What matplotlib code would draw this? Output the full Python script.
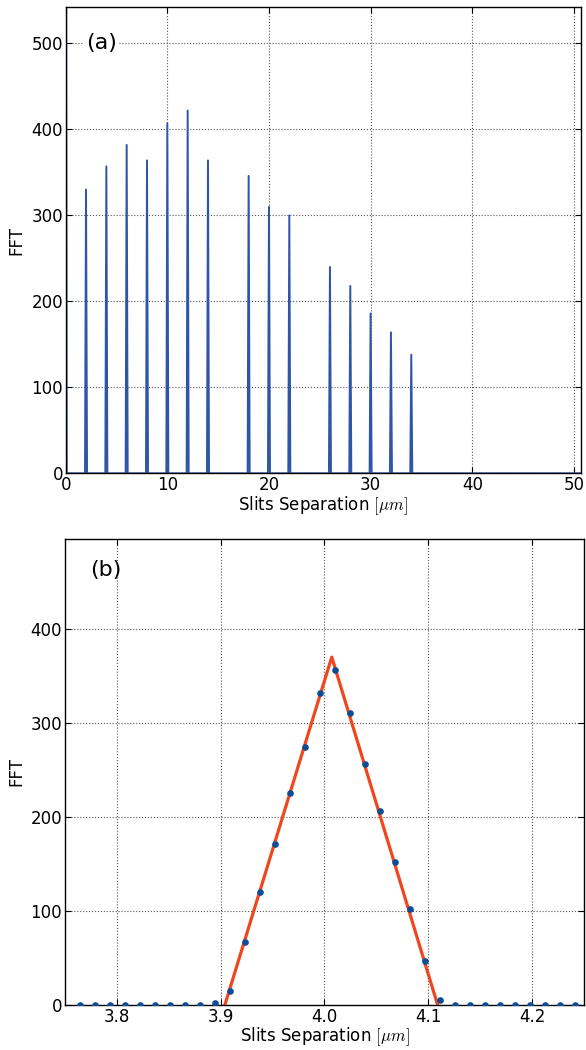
import matplotlib
matplotlib.use('Agg')
import matplotlib.pyplot as plt

plt.rcParams['font.family'] = 'DejaVu Sans'
plt.rcParams['mathtext.fontset'] = 'cm'

# (a) peaks of the spectrum: centre [um] and height
peak_pos = [0, 2, 4, 6, 8, 10, 12, 14, 18, 20, 22, 26, 28, 30, 32, 34]
peak_fft = [1000, 330, 357, 382, 364, 407, 422, 364, 346, 310, 300,
            240, 218, 186, 164, 138]
x_end_a = 50.7

# (b) zoom on the peak near 4 um: sampled points and triangle fit
zoom_x = [3.7645, 3.7790, 3.7934, 3.8079, 3.8223, 3.8368, 3.8512, 3.8657,
          3.8801, 3.8946, 3.9090, 3.9235, 3.9379, 3.9524, 3.9668, 3.9813,
          3.9957, 4.0102, 4.0246, 4.0391, 4.0535, 4.0680, 4.0824, 4.0969,
          4.1113, 4.1258, 4.1402, 4.1547, 4.1691, 4.1836, 4.1980, 4.2125,
          4.2269, 4.2414]
zoom_fft = [0, 0, 0, 0, 0, 0, 0, 0, 0, 2, 15, 67, 120, 171, 225, 274,
            332, 356, 311, 256, 206, 152, 102, 47, 5, 0, 0, 0, 0, 0, 0, 0,
            0, 0]
fit_x = [3.904, 4.007, 4.109]
fit_fft = [0, 370, 0]

HALF_WIDTH = 0.1
LINE_BLUE = '#2f55a8'
DOT_BLUE = '#0e4d92'
FIT_RED = '#f0461f'


def spectrum_line(pos, vals, x_end):
    xs, ys = [], []
    for c, h in zip(pos, vals):
        left = max(c - HALF_WIDTH, 0)
        xs += [left, c, c + HALF_WIDTH]
        ys += [0 if left < c else h, h, 0]
    xs.append(x_end)
    ys.append(0)
    return xs, ys


def style_axes(ax):
    ax.tick_params(direction='in', top=True, right=True, labelsize=12,
                   length=4, pad=2)
    ax.grid(True, color='#555555', linestyle=':', linewidth=0.8)
    ax.set_axisbelow(True)
    for sp in ax.spines.values():
        sp.set_linewidth(1.0)


fig = plt.figure(figsize=(5.86, 10.5), dpi=100)

ax_a = fig.add_axes([0.1121, 0.5492, 0.8794, 0.4438])
xs, ys = spectrum_line(peak_pos, peak_fft, x_end_a)
ax_a.plot(xs, ys, color=LINE_BLUE, linewidth=1.4)
ax_a.set_xlim(0, x_end_a)
ax_a.set_ylim(0, 542)
ax_a.set_xticks([0, 10, 20, 30, 40, 50])
ax_a.set_yticks([0, 100, 200, 300, 400, 500])
ax_a.set_xlabel(r'Slits Separation $[\mu m]$', fontsize=12, labelpad=0)
ax_a.set_ylabel('FFT', fontsize=12)
ax_a.text(0.039, 0.923, '(a)', transform=ax_a.transAxes, fontsize=16,
          va='center', ha='left',
          bbox=dict(facecolor='white', edgecolor='none', pad=1))
style_axes(ax_a)

ax_b = fig.add_axes([0.1109, 0.0429, 0.8857, 0.4441])
ax_b.plot(fit_x, fit_fft, color=FIT_RED, linewidth=2.3, zorder=2)
ax_b.plot(zoom_x, zoom_fft, 'o', color=DOT_BLUE, markersize=4.8,
          markeredgewidth=0, zorder=3)
ax_b.set_xlim(3.75, 4.25)
ax_b.set_ylim(0, 496)
ax_b.set_xticks([3.8, 3.9, 4.0, 4.1, 4.2])
ax_b.set_yticks([0, 100, 200, 300, 400])
ax_b.set_xlabel(r'Slits Separation $[\mu m]$', fontsize=12, labelpad=0)
ax_b.set_ylabel('FFT', fontsize=12)
ax_b.text(0.048, 0.933, '(b)', transform=ax_b.transAxes, fontsize=16,
          va='center', ha='left')
style_axes(ax_b)

fig.savefig('out.png', dpi=100)
